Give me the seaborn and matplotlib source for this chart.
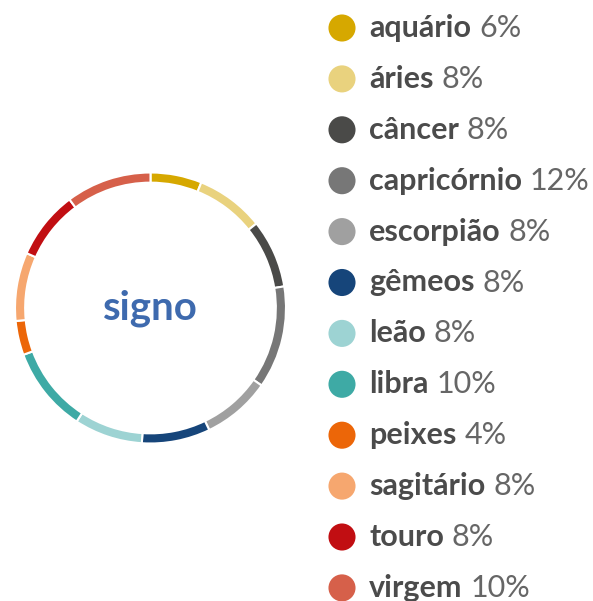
import matplotlib
matplotlib.use('Agg')
import matplotlib.pyplot as plt
import seaborn as sns
import pandas as pd

# dados
signos = ['aquário', 'áries', 'câncer', 'capricórnio', 'escorpião', 'gêmeos',
          'leão', 'libra', 'peixes', 'sagitário', 'touro', 'virgem']
pct = [6, 8, 8, 12, 8, 8, 8, 10, 4, 8, 8, 10]
cores = ['#D6A800', '#E9D27E', '#4A4A48', '#777777', '#A0A0A0', '#16457A',
         '#9DD3D3', '#3EAAA5', '#EC6608', '#F6A76F', '#C10E12', '#D6604A']
titulo = 'signo'

sns.set_theme(style='white')
plt.rcParams['font.family'] = ['Lato', 'DejaVu Sans']

df = pd.DataFrame({'signo': signos, 'pct': pct, 'pos': range(len(signos))})
df['x'] = 0

W, H = 593, 601
fig = plt.figure(figsize=(W / 100, H / 100), dpi=100)

# anel
cx, cy, r = 150.5, 308, 135.5
ax = fig.add_axes([(cx - r) / W, (H - cy - r) / H, 2 * r / W, 2 * r / H])
ax.pie(df['pct'], colors=cores, startangle=90, counterclock=False, radius=1,
       wedgeprops=dict(width=0.075, edgecolor='white', linewidth=1.5))
ax.set_xlim(-1, 1)
ax.set_ylim(-1, 1)
ax.set_aspect('equal')
ax.axis('off')
ax.text(0, 0, titulo, ha='center', va='center', fontsize=29, fontweight='bold',
        color='#3E6AAE')

# legenda
row0, step = 28, 50.9
lx0 = 320
lax = fig.add_axes([lx0 / W, 0, (W - lx0) / W, 1])
sns.scatterplot(data=df, x='x', y='pos', hue='signo', palette=cores, s=380,
                edgecolor='none', legend=False, ax=lax)
lax.set_xlim(-(342 - lx0), W - 342)
lax.set_ylim((H - row0) / step, -row0 / step)
lax.axis('off')
for _, row in df.iterrows():
    t = lax.annotate(row['signo'], xy=(0, row['pos']), xytext=(27, -9),
                     textcoords='offset pixels', ha='left', va='baseline',
                     fontsize=22, fontweight='bold', color='#4B4B4B')
    lax.annotate(f"{row['pct']}%", xy=(1, row['pos']), xycoords=(t, 'data'),
                 xytext=(8, -9), textcoords='offset pixels', ha='left',
                 va='baseline', fontsize=22, fontweight='normal', color='#666666')

fig.savefig('out.png', dpi=100)
